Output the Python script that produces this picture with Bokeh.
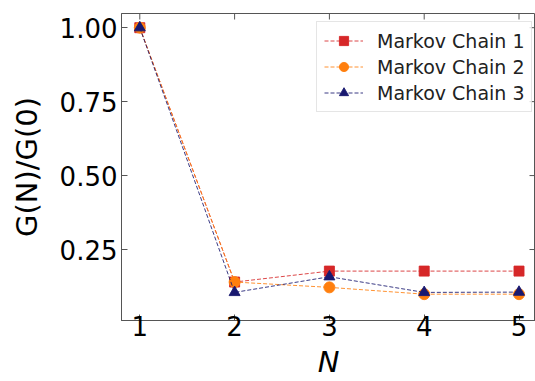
from bokeh.plotting import figure
from bokeh.models import FixedTicker, Range1d, Legend, LegendItem, CustomJSTickFormatter
from bokeh.embed import file_html
from bokeh.resources import INLINE

N = [1, 2, 3, 4, 5]
chain1 = [1.0, 0.140, 0.177, 0.177, 0.177]
chain2 = [1.0, 0.140, 0.122, 0.099, 0.099]
chain3 = [1.0, 0.105, 0.158, 0.105, 0.106]
labels = ["Markov Chain 1", "Markov Chain 2", "Markov Chain 3"]
colors = ["#d62728", "#ff7f0e", "#191970"]
markers = ["square", "circle", "triangle"]
y_ticks = [0.25, 0.50, 0.75, 1.00]
x_ticks = [1, 2, 3, 4, 5]

FONT = "DejaVu Sans"
AXC = "#555555"

xr = Range1d(0.807, 5.174)
yr = Range1d(0.01, 1.048)
p = figure(width=535, height=381, output_backend="svg", toolbar_location=None,
           x_range=xr, y_range=yr,
           min_border_left=121, min_border_right=0, min_border_top=13, min_border_bottom=10)
p.outline_line_color = AXC
p.outline_line_width = 1
p.grid.visible = False
p.background_fill_color = "white"

def style_axis(ax):
    ax.axis_line_color = AXC
    ax.major_tick_line_color = AXC
    ax.major_tick_in = 6
    ax.major_tick_out = 0
    ax.minor_tick_line_color = None
    ax.major_label_text_font = FONT
    ax.major_label_text_color = "black"
    ax.axis_label_text_font = FONT
    ax.axis_label_text_color = "black"

xa = p.xaxis[0]
style_axis(xa)
xa.ticker = FixedTicker(ticks=x_ticks)
xa.major_label_text_font_size = "26px"
xa.major_label_standoff = -5
xa.axis_label = "N"
xa.axis_label_text_font_size = "29px"
xa.axis_label_text_font_style = "italic"
xa.axis_label_standoff = 6

ya = p.yaxis[0]
style_axis(ya)
ya.ticker = FixedTicker(ticks=y_ticks)
ya.formatter = CustomJSTickFormatter(code="return tick.toFixed(2);")
ya.major_label_text_font_size = "26px"
ya.major_label_standoff = 4
ya.axis_label = "G(N)/G(0)"
ya.axis_label_text_font_size = "29px"
ya.axis_label_text_font_style = "normal"
ya.axis_label_standoff = 13

# inward tick marks on the top and right spines (clipped to the frame)
p.scatter(x_ticks, [yr.end] * len(x_ticks), marker="dash", angle=1.5708, size=12,
          line_color=AXC, line_width=1)
p.scatter([xr.end] * len(y_ticks), y_ticks, marker="dash", size=12,
          line_color=AXC, line_width=1)

items = []
series = [chain1, chain2, chain3]
for lab, col, mk, ys in zip(labels, colors, markers, series):
    ln = p.line(N, ys, line_color=col, line_width=1, line_dash="4 2", line_alpha=0.85)
    sc = p.scatter(N, ys, marker=mk, size=11 if mk != "square" else 10,
                   fill_color=col, line_color=col, line_alpha=0.9)
    items.append(LegendItem(label=lab, renderers=[ln, sc]))

leg = Legend(items=items, location=(195, 208), margin=0, padding=7,
             glyph_width=39, glyph_height=23, label_height=23, spacing=3,
             label_standoff=14, label_text_font=FONT, label_text_font_size="19px",
             label_text_color="#222222",
             border_line_color="#cccccc", border_line_width=1,
             background_fill_color="white", background_fill_alpha=0.8)
p.add_layout(leg, "center")

open("out.html", "w").write(file_html(p, INLINE))
